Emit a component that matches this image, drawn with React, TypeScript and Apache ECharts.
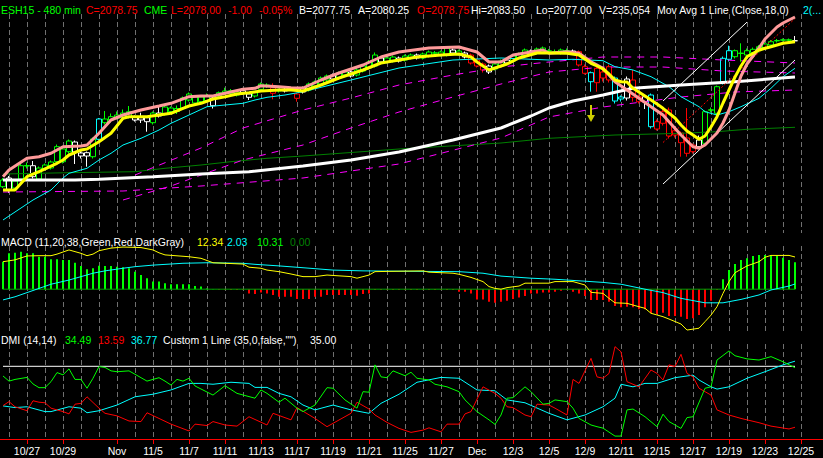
import React, { useEffect, useRef } from 'react';
import * as echarts from 'echarts';

// ---------- x axis (one category per 480-min bar, 3 bars per trading day) ----------
const barSlots = 134;
const xLabels = ['10/27', '10/29', 'Nov', '11/5', '11/7', '11/11', '11/13', '11/17', '11/19', '11/21', '11/25', '11/27', 'Dec', '12/3', '12/5', '12/9', '12/11', '12/15', '12/17', '12/19', '12/23', '12/25'];
const xLabelDays = [1, 3, 6, 8, 10, 12, 14, 16, 18, 20, 22, 24, 26, 28, 30, 32, 34, 36, 38, 40, 42, 44];

// ---------- header texts ----------
const titleTexts = ['ESH15 - 480 min', 'C=2078.75', 'CME', 'L=2078.00', '-1.00', '-0.05%', 'B=2077.75', 'A=2080.25', 'O=2078.75', 'Hi=2083.50', 'Lo=2077.00', 'V=235,054', 'Mov Avg 1 Line (Close,18,0)', '2(...'];
const macdTexts = ['MACD (11,20,38,Green,Red,DarkGray)', '12.34', '2.03', '10.31', '0.00'];
const dmiTexts = ['DMI (14,14)', '34.49', '13.59', '36.77', 'Custom 1 Line (35,0,false,"")', '35.00'];

// ---------- candles [open, close, low, high] ----------
const candles = [
  [1932.8, 1939.5, 1931.5, 1941.5], [1941.5, 1929.5, 1926.5, 1943.5], [1931.5, 1938.5, 1930, 1940], [1940.5, 1953.8, 1939, 1956], [1953.5, 1954, 1951, 1957],
  [1953.8, 1942.8, 1941, 1958.5], [1940.5, 1951.5, 1939, 1953], [1950.5, 1954.5, 1949, 1956], [1951.5, 1957.5, 1950, 1959], [1957.8, 1972.8, 1956, 1975],
  [1957.8, 1970.5, 1956, 1973], [1967.8, 1978.5, 1966, 1980], [1977.5, 1967.5, 1955.5, 1979], [1966.5, 1963.5, 1961, 1968], [1966.8, 1963.5, 1952.8, 1968],
  [1962.8, 1980.5, 1961, 1982], [1980.2, 2000.5, 1979, 2001.5], [1996.8, 2000.5, 1995, 2008.5], [1999.5, 2002.8, 1997, 2006], [2001.2, 2004.5, 2000, 2008],
  [2001.8, 2006.5, 2000, 2010], [2002.8, 2007.8, 2001, 2013.5], [2002.8, 1999.5, 1998, 2004], [2001.8, 1999.5, 1996.5, 2006.8], [2001.8, 1997.8, 1987.8, 2003],
  [1996.8, 2006.5, 1995, 2008], [2006.5, 2003.5, 2002, 2012.8], [2005.5, 2012.5, 2004, 2014], [2007.8, 2011.5, 2006, 2013], [2008, 2011, 2005.5, 2014],
  [2011.5, 2021.5, 2010, 2023], [2019.5, 2025.5, 2018, 2027], [2022.5, 2016.5, 2015, 2024], [2017.8, 2022.5, 2016, 2024], [2019, 2023, 2017, 2026],
  [2021.5, 2013.8, 2011, 2023], [2023.5, 2026.8, 2021, 2028], [2026.8, 2028.5, 2025, 2031.8], [2026.2, 2028.8, 2025, 2030.5], [2024.5, 2027.5, 2023, 2029],
  [2028.8, 2026.8, 2025, 2030], [2025.5, 2022.2, 2019.5, 2027], [2023.5, 2026.8, 2022, 2028.5], [2030.2, 2035.5, 2029, 2037], [2032.8, 2034.5, 2031.5, 2036.2],
  [2031.8, 2026.2, 2020.2, 2036.2], [2028.5, 2029.8, 2027, 2031], [2030.2, 2028.5, 2027, 2031.5], [2030, 2030.3, 2028.5, 2032], [2025.5, 2021.2, 2017.8, 2026.5],
  [2031.5, 2027.5, 2026, 2033], [2029.5, 2035.5, 2028, 2037], [2033.5, 2037.5, 2032, 2039], [2035.5, 2041.5, 2034, 2043], [2039.5, 2043.5, 2038, 2045],
  [2044.5, 2040.5, 2039, 2046], [2041.5, 2046.5, 2040, 2048], [2044.5, 2047.5, 2043, 2049], [2047.5, 2043.5, 2042, 2049], [2044.5, 2049.5, 2043, 2051],
  [2048.5, 2053.5, 2047, 2055], [2051.5, 2057.5, 2050, 2059.5], [2053.5, 2064.5, 2052, 2067], [2061.5, 2057.5, 2056, 2063.5], [2057.5, 2061.5, 2056, 2063],
  [2058.5, 2062.5, 2057, 2064], [2061.5, 2058.5, 2057, 2063], [2059.5, 2063.5, 2058, 2065], [2061.5, 2064.5, 2060, 2066], [2064.5, 2061.5, 2060, 2066],
  [2061.5, 2065.5, 2060, 2067], [2063.5, 2067.5, 2062, 2069], [2066.3, 2066.7, 2064.5, 2068.5], [2064.5, 2067.5, 2063, 2069], [2064.5, 2071.5, 2063, 2073],
  [2069.5, 2066.5, 2065, 2071], [2065.5, 2068.5, 2064, 2070], [2066.5, 2062.5, 2061, 2068], [2064.5, 2056.5, 2055, 2066], [2059.5, 2053.5, 2052, 2061],
  [2055.5, 2049.5, 2047, 2057], [2053.5, 2047.5, 2045.5, 2055], [2050.5, 2055.5, 2049, 2057], [2053.5, 2058.5, 2052, 2060], [2059.5, 2056.5, 2055, 2061],
  [2058.5, 2063.5, 2057, 2065], [2061.5, 2065.5, 2060, 2067], [2063.5, 2069.5, 2062, 2071], [2068.5, 2065.5, 2064, 2070], [2066.5, 2070.5, 2065, 2072],
  [2067.5, 2071.5, 2066, 2073], [2068.3, 2068.7, 2066.5, 2070.5], [2067.6, 2068, 2066, 2070], [2066.5, 2069.5, 2065, 2071], [2068.6, 2069, 2067, 2071],
  [2068.5, 2066.5, 2065, 2070], [2067.8, 2054.5, 2053, 2069], [2052.8, 2046.2, 2045, 2055], [2046.8, 2037.8, 2027.8, 2048], [2036.8, 2051.2, 2027.8, 2053],
  [2047.5, 2041.5, 2038, 2050], [2052.8, 2039.5, 2037, 2055], [2041.5, 2018.5, 2016, 2043], [2022.5, 2020.5, 2018, 2024], [2021.5, 2040.5, 2019, 2043],
  [2039.5, 2022.2, 2017.8, 2049.5], [2022.8, 2017.8, 2016, 2025], [2017.8, 2022.8, 2010.5, 2024.5], [2024.5, 1992.8, 1991, 2026], [1990.5, 1997.8, 1989, 2000],
  [2007.8, 1996.2, 1994, 2010], [2009.5, 1983.5, 1981, 2012], [1984.5, 1988.8, 1982, 1991], [1986.5, 1976.8, 1962.8, 1988], [1981.5, 1966.2, 1962.8, 2011.5],
  [1967.8, 1974.5, 1966, 1976], [1972.8, 1979.5, 1971, 1984], [1976.2, 2007.8, 1974, 2009], [2009.3, 2009.7, 2007, 2012], [2006.2, 2032.8, 2004, 2034],
  [2037.8, 2061.2, 2035, 2063], [2060.2, 2068.8, 2058, 2073.8], [2068.8, 2062.8, 2061, 2070], [2066, 2066.4, 2057.8, 2076.2], [2064.5, 2068.8, 2063, 2071],
  [2066.8, 2070.2, 2065, 2072], [2068.8, 2072.8, 2067, 2074.5], [2071.2, 2075.5, 2070, 2077], [2074.5, 2077.8, 2073, 2079.5], [2078.6, 2079, 2077, 2080.5],
  [2079.3, 2079.7, 2078, 2081], [2079.3, 2079.7, 2078, 2081], [2078.75, 2078.75, 2077, 2083.5],
];
// paint-bar colour of each candle: g green, w white, r red, c cyan
const candlePaint = ('gwgggwgggg' + 'ggwwwgcggg' + 'ggwwwgwggg' + 'gggggwgggg' + 'wwgggrgwgr' + 'wggggwggwg' + 'gggwggwggw' + 'gggggwgwrr' + 'rwggwgggwg' + 'gggggwrrcr' + 'rrccwrrwcr' + 'rrrrrrwggg' + 'ccgggggggg' + 'ggw').split('');

// ---------- price overlays: [bar index, price] ----------
const yellowAvg = [[0, 1929.5], [2, 1929.5], [4, 1942.8], [6, 1947.8], [9, 1956.2], [10, 1959.5], [11, 1964.5], [13, 1969.5], [14, 1970.5], [16, 1977.8], [18, 1986.2], [20, 2001.2], [21, 2002.8], [24, 2002.8], [26, 2004.5], [28, 2006.2], [30, 2011.2], [31, 2013.5], [33, 2016.2], [35, 2020.5], [37, 2022.8], [39, 2025.5], [41, 2026.8], [43, 2028.5], [46, 2029.5], [48, 2029.5], [50, 2028.5], [53, 2034.5], [56, 2041.5], [60, 2049.5], [63, 2056.5], [66, 2059.5], [69, 2062.5], [73, 2064.5], [76, 2065.5], [78, 2062.5], [79, 2057.5], [80, 2053.5], [81, 2049.5], [82, 2051.5], [84, 2055.5], [86, 2061.5], [89, 2066.5], [91, 2066.5], [94, 2066.2], [96, 2064.5], [98, 2056.2], [99, 2053.5], [100, 2050.5], [101, 2045.5], [102, 2039.5], [103, 2037.8], [104, 2037.5], [105, 2031.2], [107, 2023.5], [109, 2015.5], [110, 2011.2], [112, 2001.5], [113, 1994.5], [114, 1988.5], [115, 1984.5], [116, 1980.2], [117, 1983.5], [118, 1992.5], [119, 2002.8], [120, 2016.5], [121, 2029.5], [122, 2042.5], [123, 2053.5], [124, 2062.8], [126, 2069.5], [128, 2072.8], [130, 2076.2], [132, 2077.8]];
const pinkAvg = [[0, 1942.8], [1, 1949.5], [4, 1961.2], [6, 1962.8], [8, 1966.2], [10, 1972.8], [13, 1973.5], [14, 1974.5], [16, 1986.2], [18, 1999.5], [20, 2004.5], [23, 2009.5], [26, 2013.5], [28, 2016.2], [31, 2022.8], [33, 2023.5], [35, 2023.5], [37, 2026.2], [40, 2030.2], [42, 2031.2], [43, 2033.8], [46, 2032.8], [48, 2031.8], [50, 2031.5], [53, 2039.5], [56, 2046.5], [60, 2054.5], [63, 2062.5], [66, 2067.5], [71, 2071.5], [76, 2072.5], [79, 2067.5], [81, 2057.5], [83, 2057.5], [85, 2064.5], [88, 2067.5], [90, 2069.5], [91, 2066.2], [94, 2067.8], [96, 2066.2], [98, 2057.8], [100, 2051.2], [102, 2037.8], [104, 2029.5], [106, 2021.2], [108, 2012.8], [110, 2004.5], [111, 1997.8], [113, 1984.5], [115, 1972.8], [116, 1971.2], [117, 1974.5], [119, 1986.5], [120, 1996.5], [121, 2009.5], [122, 2026.5], [123, 2043.5], [124, 2055.5], [125, 2063.5], [126, 2071.5], [127, 2080.5], [128, 2086.5], [129, 2092.5], [130, 2096.5], [131, 2099.5], [132, 2102.5]];
const cyanAvg18 = [[0, 1899.5], [2, 1907.5], [4, 1915.5], [5, 1919.5], [8, 1929.5], [10, 1941.5], [11, 1946.2], [14, 1951.2], [16, 1959.5], [18, 1966.2], [20, 1974.5], [23, 1981.2], [26, 1989.5], [28, 1996.2], [31, 2004.5], [34, 2012.8], [37, 2014.5], [40, 2016.2], [42, 2019.5], [44, 2022.2], [47, 2024.5], [50, 2027.8], [58, 2039.5], [66, 2051.5], [75, 2059.5], [83, 2061.5], [91, 2059.5], [95, 2060.2], [100, 2058.8], [102, 2052.8], [105, 2049.5], [108, 2042.8], [111, 2032.8], [113, 2022.8], [116, 2012.8], [117, 2007.8], [119, 2004.5], [121, 2007.8], [123, 2012.8], [126, 2021.2], [128, 2031.2], [130, 2042.8], [132, 2051.2]];
const whiteAvg = [[0, 1939.5], [12, 1939.5], [16, 1940.2], [25, 1942.8], [33, 1945.5], [41, 1947.8], [50, 1953.5], [58, 1959.5], [66, 1967.5], [75, 1979.5], [83, 1991.5], [88, 2003.5], [91, 2011.5], [95, 2018.5], [100, 2024.5], [105, 2031.2], [113, 2034.5], [122, 2037.8], [132, 2042.5]];
const greenAvg = [[0, 1945.5], [11, 1946.8], [22, 1947.8], [27, 1951.2], [33, 1954.5], [38, 1957.8], [44, 1961.2], [50, 1963.5], [66, 1970.5], [83, 1976.5], [91, 1981.2], [102, 1984.5], [113, 1986.2], [119, 1987.8], [124, 1990.2], [132, 1992.2]];
const magentaBandA = [[22, 1944.5], [33, 1971.5], [40, 1991.5], [50, 2009.5], [58, 2021.5], [66, 2034.5], [75, 2044.5], [83, 2052.5], [91, 2057.5], [100, 2062.5], [110, 2062.5], [120, 2059.5], [132, 2056.5]];
const magentaBandB = [[20, 1919.5], [28, 1933.5], [33, 1944.5], [40, 1959.5], [50, 1974.5], [58, 1991.5], [66, 2007.5], [75, 2022.5], [83, 2035.5], [91, 2047.5], [100, 2052.5], [110, 2052.5], [120, 2048.5], [132, 2046.5]];
const magentaBandC = [[0, 1927.5], [20, 1928.5], [33, 1933.5], [50, 1941.5], [66, 1955.5], [83, 1981.5], [91, 2002.5], [100, 2012.5], [113, 2022.5], [122, 2027.5], [132, 2029.5]];
const channelUpper = [[110, 2018.5], [124, 2097.4]];
const channelMiddle = [[110, 1977], [132, 2101]];
const channelLower = [[110, 1935.5], [132, 2059.5]];
const arrowMark = [[98, 2006]];

// ---------- MACD ----------
const macdHist = [
  10.5, 13.7, 13.9, 14.3, 13.7, 13.7, 12.4, 12.4, 11.4, 11.4,
  11.2, 11.2, 10.1, 8.9, 7.6, 8.0, 9.0, 8.9, 8.9, 8.6,
  8.4, 8.0, 6.7, 5.4, 4.2, 2.9, 2.9, 2.3, 1.9, 1.9,
  1.9, 1.9, 1.2, 1.0, 0.3, 0.1, -0.2, -0.2, -0.3, -0.3,
  -0.3, -1.6, -1.8, -1.3, -1.6, -2.2, -2.9, -2.9, -2.9, -3.7,
  -3.7, -3.7, -2.9, -2.9, -2.2, -2.2, -2.2, -2.2, -2.2, -2.5,
  -1.8, -1.6, -0.3, -0.3, -0.3, -0.3, -0.3, -0.3, -0.3, -0.3,
  -0.3, -0.3, -0.3, -0.3, -0.3, -0.3, -1.0, -1.0, -1.6, -3.9,
  -3.9, -4.8, -5.2, -4.8, -4.4, -3.7, -3.2, -2.6, -1.6, -1.6,
  -1.3, -1.3, -1.0, -0.6, -0.3, -1.0, -1.6, -2.6, -4.1, -4.1,
  -4.1, -4.8, -6.4, -6.9, -6.7, -6.9, -7.7, -7.7, -9.2, -9.5,
  -9.0, -10.2, -10.2, -10.5, -11.4, -11.1, -9.9, -6.9, -4.4, -0.3,
  3.8, 7.3, 9.6, 11.2, 11.8, 12.7, 13.1, 13.1, 12.8, 12.8,
  12.0, 11.2, 10.3,
];
const macdLine = [[0, 10.5], [2, 11.2], [4, 12.7], [6, 12.8], [8, 12.8], [9, 13.4], [11, 15.0], [13, 13.7], [14, 12.8], [15, 13.4], [16, 14.7], [18, 15.7], [20, 16.1], [23, 15.9], [25, 15.0], [26, 13.9], [27, 13.1], [31, 12.4], [33, 11.8], [35, 10.1], [37, 9.9], [40, 9.6], [41, 8.4], [43, 8.0], [44, 7.3], [46, 6.7], [48, 5.8], [50, 4.8], [52, 4.8], [54, 5.4], [58, 4.8], [59, 4.2], [61, 5.4], [62, 6.7], [64, 6.8], [70, 7.0], [71, 6.5], [75, 6.1], [76, 5.7], [78, 4.5], [80, 2.9], [81, 1.0], [82, 0.3], [83, 0.0], [84, 0.6], [86, 1.2], [87, 2.3], [91, 2.3], [92, 2.9], [95, 2.9], [97, 1.6], [98, -1.2], [100, -1.6], [101, -3.5], [102, -5.2], [104, -5.4], [106, -6.7], [107, -7.3], [108, -9.2], [110, -10.5], [111, -11.4], [113, -13.3], [114, -15.6], [116, -14.9], [117, -12.4], [118, -9.9], [119, -6.7], [120, -1.6], [121, 2.9], [122, 6.3], [124, 8.9], [126, 10.5], [127, 12.2], [128, 12.9], [131, 12.9], [132, 12.3]];
const macdAvg = [[0, -4.1], [2, -2.9], [4, -1.3], [6, 0.3], [8, 1.9], [11, 3.5], [13, 4.8], [15, 6.1], [17, 7.0], [20, 8.0], [22, 8.6], [25, 9.2], [30, 9.9], [34, 10.1], [40, 9.9], [42, 9.5], [46, 8.9], [50, 8.2], [55, 7.3], [60, 7.0], [70, 6.8], [76, 6.7], [80, 6.1], [83, 5.0], [88, 4.2], [92, 3.8], [96, 3.2], [100, 2.6], [103, 1.9], [107, 0.0], [110, -1.3], [113, -3.5], [117, -5.2], [120, -5.2], [123, -3.9], [126, -2.2], [128, -0.3], [131, 1.2], [132, 2.0]];
const macdZero = [[0, 0], [132, 0]];

// ---------- DMI ----------
const dmiPlus = [[0, 31.6], [1, 29.8], [2, 30.4], [4, 31.1], [5, 28.8], [6, 27.5], [7, 27.5], [8, 29.6], [9, 32.8], [10, 32.0], [11, 34.1], [12, 30.4], [13, 30.4], [14, 27.3], [15, 30.8], [16, 34.9], [17, 34.6], [18, 33.4], [19, 33.1], [21, 33.4], [22, 32.2], [24, 29.8], [26, 31.0], [27, 29.8], [28, 28.4], [29, 30.4], [30, 29.8], [31, 30.8], [32, 28.1], [35, 24.9], [37, 28.2], [39, 25.5], [42, 23.8], [43, 26.7], [44, 25.5], [46, 22.4], [47, 23.8], [49, 20.3], [50, 19.1], [52, 21.4], [54, 27.5], [55, 27.3], [57, 23.2], [59, 20.3], [60, 26.1], [61, 25.9], [62, 35.5], [63, 31.3], [64, 31.0], [65, 33.4], [67, 31.7], [68, 32.9], [69, 30.8], [71, 30.2], [72, 28.7], [74, 27.8], [76, 26.1], [77, 23.2], [79, 19.1], [81, 16.2], [82, 14.6], [83, 17.9], [84, 23.8], [85, 24.0], [87, 27.8], [88, 26.1], [90, 21.7], [91, 22.0], [92, 23.2], [94, 22.6], [95, 20.3], [96, 16.7], [98, 14.4], [99, 13.8], [100, 13.3], [102, 10.5], [103, 10.5], [104, 19.7], [105, 20.0], [107, 17.3], [109, 13.8], [110, 18.2], [111, 15.6], [113, 13.2], [114, 17.0], [115, 17.3], [117, 27.3], [118, 27.8], [119, 37.2], [121, 40.4], [122, 38.7], [124, 37.6], [126, 37.2], [128, 38.4], [130, 36.6], [132, 34.5]];
const dmiMinus = [[0, 21.2], [1, 22.6], [2, 20.8], [4, 19.4], [5, 22.9], [6, 22.4], [7, 22.2], [8, 20.3], [10, 19.1], [11, 18.3], [12, 21.7], [13, 22.0], [14, 24.3], [16, 20.3], [17, 18.5], [19, 17.6], [21, 15.8], [23, 15.6], [24, 18.7], [26, 16.7], [28, 14.7], [31, 12.3], [32, 14.7], [34, 14.2], [35, 15.6], [37, 14.4], [39, 14.0], [41, 17.3], [44, 14.4], [45, 18.5], [48, 16.2], [49, 20.5], [52, 16.7], [54, 13.8], [58, 18.5], [59, 22.4], [61, 20.0], [62, 17.9], [64, 15.3], [66, 13.2], [68, 11.8], [70, 12.6], [71, 13.4], [73, 12.0], [74, 14.7], [76, 14.7], [77, 18.3], [78, 19.1], [80, 27.8], [82, 25.5], [83, 23.8], [84, 20.8], [85, 20.5], [87, 17.9], [88, 17.3], [89, 21.7], [91, 21.4], [92, 20.3], [94, 17.9], [95, 30.4], [96, 29.0], [98, 37.8], [99, 31.3], [100, 30.8], [101, 32.5], [102, 41.9], [103, 40.1], [104, 29.6], [106, 27.8], [108, 33.7], [109, 32.5], [110, 30.2], [111, 35.5], [112, 34.9], [113, 39.2], [114, 32.5], [115, 31.3], [116, 27.3], [118, 24.9], [119, 19.7], [121, 17.9], [123, 16.7], [126, 15.2], [128, 14.0], [131, 13.0], [132, 13.6]];
const adx = [[0, 21.1], [2, 20.5], [4, 20.8], [7, 19.1], [8, 19.1], [11, 20.8], [13, 20.3], [14, 18.7], [16, 19.4], [19, 21.4], [22, 24.3], [25, 25.2], [28, 26.7], [31, 29.0], [33, 29.0], [35, 28.7], [38, 29.4], [41, 29.0], [42, 27.6], [44, 27.6], [46, 25.5], [48, 24.3], [50, 21.4], [52, 19.7], [55, 21.4], [58, 19.7], [61, 18.5], [63, 22.0], [66, 25.2], [69, 29.4], [73, 31.1], [76, 30.8], [79, 26.7], [82, 26.4], [84, 23.2], [87, 22.2], [91, 18.5], [94, 16.2], [97, 17.9], [100, 20.8], [102, 23.8], [103, 28.7], [105, 27.8], [107, 29.0], [109, 29.0], [112, 31.0], [115, 31.9], [116, 30.2], [118, 27.8], [119, 27.0], [121, 27.8], [124, 30.8], [127, 33.1], [130, 35.5], [132, 36.8]];
const dmiLevel = [[0, 35], [132, 35]];

// ---------- chart ----------
const FONT = '"Liberation Sans", Arial, sans-serif';
const PAINT: Record<string, string> = { g: '#00ff00', w: '#ffffff', r: '#ff0000', c: '#00ffff' };

function buildOption() {
  const categories = Array.from({ length: barSlots }, (_, k) => String(k));
  const labelAt: Record<number, string> = {};
  xLabels.forEach((l, i) => { labelAt[1 + 3 * xLabelDays[i]] = l; });
  const isDay = (i: number) => i % 3 === 1;
  const isLabel = (i: number) => labelAt[i] !== undefined;

  const xAxis = [0, 1, 2].map((g) => ({
    type: 'category', gridIndex: g, data: categories, boundaryGap: false,
    axisLine: { show: g === 2, onZero: false, lineStyle: { color: '#ff0000', width: 1 } },
    axisTick: { show: g === 2, interval: isLabel, length: 5, lineStyle: { color: '#ff0000' } },
    axisLabel: { show: g === 2, interval: isLabel, formatter: (v: string) => labelAt[+v] ?? '', color: '#ffffff', fontSize: 10.5, fontFamily: FONT, margin: 6 },
    splitLine: { show: true, interval: isDay, lineStyle: { color: '#707070', type: [5, 3], width: 1 } },
  }));
  const yAxis = [
    { type: 'value', gridIndex: 0, min: 1886.5, max: 2105.5, show: false },
    { type: 'value', gridIndex: 1, min: -16.73, max: 16.5, show: false },
    { type: 'value', gridIndex: 2, min: 9.48, max: 42.83, show: false },
  ];
  const grid = [
    { left: 3, width: 798, top: 14, height: 219 },
    { left: 3, width: 798, top: 246, height: 87 },
    { left: 3, width: 798, top: 344, height: 95 },
  ];
  const line = (data: number[][], color: string, width: number, g: number, extra: any = {}) => ({
    type: 'line', data, xAxisIndex: g, yAxisIndex: g, symbol: 'none', silent: true,
    lineStyle: { color, width, ...extra }, z: 3,
  });

  const candleData = candles.map((c, k) => {
    const col = PAINT[candlePaint[k]];
    return { value: c, itemStyle: { color: '#000000', color0: col, borderColor: col, borderColor0: col, borderColorDoji: col, borderWidth: 1 } };
  });

  const text = (x: number, y: number, t: string, fill: string) => ({
    type: 'text', x, y, silent: true,
    style: { text: t, fill, font: `10.5px ${FONT}`, verticalAlign: 'middle' },
  });
  const titleX = [1, 86, 144, 171, 228, 259, 299, 358, 417, 471, 536, 599, 657, 803];
  const titleC = ['#00ff00', '#ff0000', '#00ff00', '#ff0000', '#ff0000', '#ff0000', '#fff', '#fff', '#ff0000', '#fff', '#fff', '#fff', '#fff', '#00ffff'];
  const macdX = [1, 197, 227, 257, 290];
  const macdC = ['#fff', '#ffff00', '#00ffff', '#00ff00', '#008000'];
  const dmiX = [1, 65, 98, 131, 163, 310];
  const dmiC = ['#fff', '#00ff00', '#ff0000', '#00ffff', '#fff', '#fff'];
  const graphic = [
    // the time axis line runs across the whole window
    { type: 'line', silent: true, z: 10, shape: { x1: 0, y1: 439.5, x2: 823, y2: 439.5 }, style: { stroke: '#ff0000', lineWidth: 1 } },
    ...titleTexts.map((t, i) => text(titleX[i], 9.5, t, titleC[i])),
    ...macdTexts.map((t, i) => text(macdX[i], 241.5, t, macdC[i])),
    ...dmiTexts.map((t, i) => text(dmiX[i], 339.5, t, dmiC[i])),
  ];

  return {
    animation: false,
    backgroundColor: '#000000',
    grid, xAxis, yAxis, graphic,
    series: [
      line(greenAvg, '#008000', 1, 0),
      line(magentaBandA, '#ff00ff', 1, 0, { type: [7, 6] }),
      line(magentaBandB, '#ff00ff', 1, 0, { type: [7, 6] }),
      line(magentaBandC, '#ff00ff', 1, 0, { type: [7, 6] }),
      {
        type: 'candlestick', xAxisIndex: 0, yAxisIndex: 0, data: candleData, barWidth: 5, clip: false, silent: true, z: 2,
      },
      line(cyanAvg18, '#00ffff', 1, 0),
      line(whiteAvg, '#ffffff', 3, 0),
      line(channelUpper, '#ffffff', 1, 0),
      line(channelLower, '#ffffff', 1, 0),
      line(channelMiddle, '#ff0000', 1, 0, { type: [2, 2] }),
      line(pinkAvg, '#ff9a9a', 3, 0),
      line(yellowAvg, '#ffff00', 3, 0),
      {
        type: 'scatter', xAxisIndex: 0, yAxisIndex: 0, data: arrowMark, silent: true, z: 4,
        symbol: 'path://M3,0 L5,0 L5,10 L8,10 L4,17 L0,10 L3,10 Z', symbolSize: [8, 17],
        itemStyle: { color: '#ffff00' },
      },
      {
        type: 'bar', xAxisIndex: 1, yAxisIndex: 1, barWidth: 2, silent: true,
        data: macdHist.map((v) => ({ value: v, itemStyle: { color: v >= 0 ? '#00ff00' : '#ff0000' } })),
      },
      line(macdZero, '#00a000', 1, 1),
      line(macdAvg, '#00ffff', 1, 1),
      line(macdLine, '#ffff00', 1, 1),
      line(dmiLevel, '#ffffff', 1, 2),
      line(adx, '#00ffff', 1, 2),
      line(dmiMinus, '#ff0000', 1, 2),
      line(dmiPlus, '#00ff00', 1, 2),
    ],
  };
}

export default function App() {
  const ref = useRef<HTMLDivElement>(null);
  useEffect(() => {
    document.body.style.margin = '0';
    document.body.style.background = '#000';
    const chart = echarts.init(ref.current!, null, { renderer: 'svg' });
    chart.setOption(buildOption() as any);
    return () => chart.dispose();
  }, []);
  return <div ref={ref} style={{ width: 823, height: 458, background: '#000' }} />;
}
